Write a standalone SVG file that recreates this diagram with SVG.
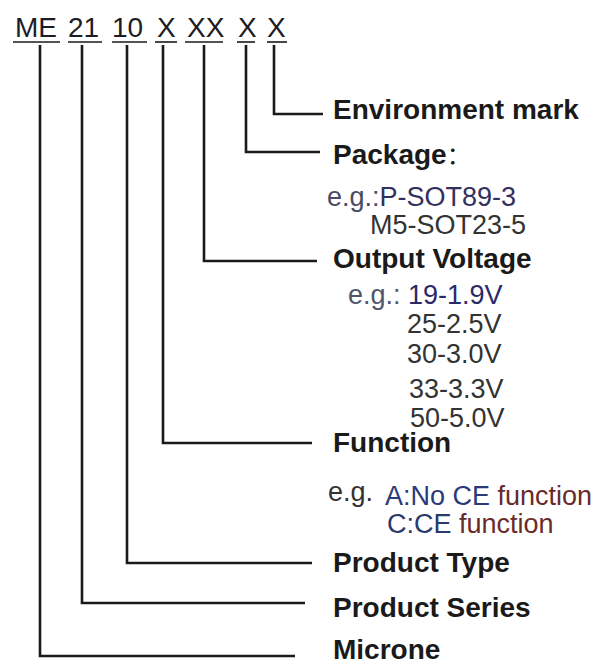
<svg xmlns="http://www.w3.org/2000/svg" width="591" height="666" viewBox="0 0 591 666">
<style>
.code{font-family:"Liberation Sans",Arial,sans-serif;font-size:28px;fill:#1c1c24}
.h{font-family:"Liberation Sans","Noto Sans CJK SC",Arial,sans-serif;font-size:28px;font-weight:bold;fill:#1a1a1a}
.ex{font-family:"Liberation Sans",Arial,sans-serif;font-size:27px;fill:#333}
.ul{stroke:#1a1a1a;stroke-width:1.6;fill:none}
.c{stroke:#1a1a1a;stroke-width:2.6;fill:none;stroke-linejoin:miter}
</style>
<rect width="591" height="666" fill="#fff"/>
<g id="code">
<text class="code" x="15" y="37">ME</text>
<text class="code" x="68" y="37" fill="#22224a">21</text>
<text class="code" x="112" y="37" fill="#22223a">10</text>
<text class="code" x="157" y="37">X</text>
<text class="code" x="187" y="37">XX</text>
<text class="code" x="238" y="37">X</text>
<text class="code" x="267" y="37">X</text>
<line class="ul" x1="13" y1="42" x2="60" y2="42"/>
<line class="ul" x1="68" y1="42" x2="102" y2="42"/>
<line class="ul" x1="112" y1="42" x2="147" y2="42"/>
<line class="ul" x1="155" y1="42" x2="177" y2="42"/>
<line class="ul" x1="185" y1="42" x2="223" y2="42"/>
<line class="ul" x1="237" y1="42" x2="255" y2="42"/>
<line class="ul" x1="267" y1="42" x2="287" y2="42"/>
</g>
<g id="connectors">
<polyline class="c" points="274,45 274,114 323,114"/>
<polyline class="c" points="246,45 246,152 320,152"/>
<polyline class="c" points="204,45 204,261 317,261"/>
<polyline class="c" points="163,45 163,443 312,443"/>
<polyline class="c" points="127,45 127,563 312,563"/>
<polyline class="c" points="82,45 82,603 305,603"/>
<polyline class="c" points="40,45 40,656 295,656"/>
</g>
<g id="environment">
<text class="h" x="333" y="119">Environment mark</text>
</g>
<g id="package">
<text class="h" x="333" y="164">Package<tspan font-weight="normal" font-size="24">：</tspan></text>
<text class="ex" x="327" y="206"><tspan fill="#4a4a66">e.g.:</tspan><tspan fill="#33305e">P-SOT89-3</tspan></text>
<text class="ex" x="370" y="234" fill="#2e3a58">M5-SOT23-5</text>
</g>
<g id="output-voltage">
<text class="h" x="333" y="268">Output Voltage</text>
<text class="ex" x="348" y="304"><tspan fill="#50546c">e.g.: </tspan><tspan fill="#2a2a6a" x="408">19-1.9V</tspan></text>
<text class="ex" x="407" y="333" fill="#333338">25-2.5V</text>
<text class="ex" x="407" y="363" fill="#2c3848">30-3.0V</text>
<text class="ex" x="409" y="398" fill="#404654">33-3.3V</text>
<text class="ex" x="410" y="427" font-size="25" fill="#4a1a70">50-5.0V</text>
</g>
<g id="function">
<text class="h" x="333" y="452">Function</text>
<text class="ex" x="328" y="501" font-size="24" fill="#4a5068">e.g.</text>
<text class="ex" x="385" y="505"><tspan fill="#2a3a7a">A:No CE </tspan><tspan fill="#6a2a2a">function</tspan></text>
<text class="ex" x="387" y="533"><tspan fill="#2a3a6a">C:CE </tspan><tspan fill="#6a2a2a">function</tspan></text>
</g>
<g id="product-type">
<text class="h" x="333" y="572">Product Type</text>
</g>
<g id="product-series">
<text class="h" x="333" y="617">Product Series</text>
</g>
<g id="microne">
<text class="h" x="333" y="659">Microne</text>
</g>
</svg>
